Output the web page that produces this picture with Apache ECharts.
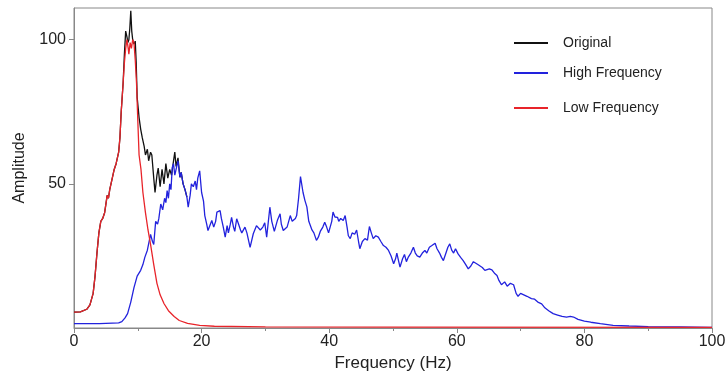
<!DOCTYPE html>
<html>
<head>
<meta charset="utf-8">
<script src="https://cdn.jsdelivr.net/npm/echarts@6/dist/echarts.min.js"></script>
<style>html,body{margin:0;padding:0;background:#fff}#c{width:728px;height:372px}</style>
</head>
<body>
<div id="c"></div>
<script>
// Frequency (Hz) vs Amplitude pairs
const lowFrequency = [[0,5.5],[1,5.6],[2,6.5],[2.5,8],[3,12],[3.3,18],[3.6,26],[3.9,33],[4.2,37],[4.5,38],[4.8,40],[5.0,43],[5.2,46],[5.4,45],[5.6,48],[6.0,52],[6.3,55],[6.6,57],[7.0,61],[7.2,66],[7.4,75],[7.7,85],[7.9,92],[8.1,97],[8.3,100],[8.5,97],[8.6,95],[8.8,99],[9.0,97],[9.2,100],[9.4,99],[9.6,93],[9.8,85],[10.0,72],[10.2,60],[10.5,55],[10.8,47],[11.2,40],[11.6,34],[12.0,29],[12.5,22],[13.0,15.5],[13.5,11.5],[14.1,8.5],[14.8,6],[15.7,4],[16.5,2.6],[17.8,1.6],[19.7,0.9],[22,0.6],[30,0.4],[50,0.3],[100,0.2]];

const original = [[0,5.5],[1,5.6],[2,6.5],[2.5,8],[3,12],[3.3,18],[3.6,26],[3.9,33],[4.2,37],[4.5,38],[4.8,40],[5.0,43],[5.2,46],[5.4,45],[5.6,48],[6.0,52],[6.3,55],[6.6,57],[7.0,61],[7.2,66],[7.4,75],[7.7,85],[7.9,95],[8.1,103],[8.3,101],[8.45,99],[8.6,100],[8.75,104],[8.9,110],[9.05,103],[9.2,100],[9.4,98.5],[9.6,99.5],[9.75,92],[9.9,80],[10.2,73],[10.45,69],[10.7,66],[11.0,63],[11.2,60],[11.5,62],[11.7,58],[12.0,61],[12.2,60],[12.5,52],[12.7,47],[13.0,53],[13.2,55.5],[13.5,49],[13.8,55],[14.1,50],[14.4,57],[14.7,52],[15.0,55],[15.3,53],[15.6,58],[15.8,61],[16.0,56],[16.3,59],[16.6,52.3],[16.8,54],[17.1,50],[17.4,48],[17.7,45.4]];

const highFrequency = [[0,1.5],[4,1.5],[7,1.8],[7.5,2.2],[8,3.5],[8.4,5],[8.9,9],[9.4,14],[9.9,18],[10.45,20],[10.8,22],[11.1,24.5],[11.5,27],[12.0,32.5],[12.3,30],[12.5,29],[12.8,37],[13.1,36],[13.3,38],[13.6,43],[13.9,41],[14.2,45],[14.4,43.5],[14.6,47.7],[14.8,45],[15.0,50],[15.2,48],[15.4,55.7],[15.6,57],[15.8,53],[16.1,53.5],[16.3,58],[16.6,52.3],[16.8,54],[17.1,50],[17.4,48],[17.7,45.4],[17.9,41.9],[18.2,46],[18.4,50],[18.7,49],[19.0,51],[19.2,48],[19.4,52],[19.7,54.5],[20.0,47],[20.3,44],[20.5,39],[20.8,36],[21.0,33.8],[21.3,34],[21.6,37.3],[21.9,35],[22.2,37],[22.4,40.2],[22.9,40.7],[23.1,38],[23.4,35],[23.7,31.5],[24.0,35.5],[24.2,33],[24.5,36],[24.7,38.4],[25.0,35],[25.2,33.5],[25.5,37.9],[25.8,36],[26.1,34],[26.3,33],[26.8,35],[27.1,33],[27.6,28],[28.1,32.7],[28.6,35.5],[28.9,36],[29.2,34],[29.6,35],[29.9,36.5],[30.2,31.5],[30.7,41.9],[31.0,37],[31.4,33.5],[31.9,37.5],[32.3,39.6],[32.5,36],[32.8,33.8],[33.1,33.2],[33.4,35],[33.9,39],[34.2,37],[34.7,38],[34.9,39],[35.2,45],[35.5,52.5],[35.7,52.9],[35.9,47],[36.2,44.2],[36.5,42],[36.8,37],[37.3,34],[37.6,33],[38.0,30.4],[38.3,31.5],[38.6,33.5],[39.0,35],[39.3,36.7],[39.6,35],[39.9,33],[40.1,33.2],[40.4,37],[40.6,40.2],[40.9,38.5],[41.3,38.4],[41.5,37],[41.8,38],[42.2,37.3],[42.5,39],[42.8,35],[43.0,32],[43.3,31],[43.6,33],[44.0,32.5],[44.3,34],[44.6,30],[44.8,27.5],[45.2,30],[45.6,31],[46.0,30.5],[46.3,35.2],[46.6,33],[46.9,31],[47.3,32],[47.7,31.5],[48.1,30],[48.5,28.6],[48.9,28],[49.3,26.9],[49.7,25],[50.1,22.3],[50.4,24],[50.6,26],[50.9,23],[51.1,21.1],[51.5,24],[51.8,25.5],[52.1,23],[52.4,24.6],[52.8,26],[53.2,28],[53.5,26],[53.8,25],[54.2,24.6],[54.6,26],[55.0,26.9],[55.3,26],[55.7,28],[56.1,28.6],[56.6,29.4],[56.9,27.5],[57.3,26],[57.6,24.5],[57.9,23.4],[58.3,26],[58.6,28],[58.9,29.2],[59.2,27],[59.5,26],[59.8,27.5],[60.2,25.7],[60.6,24.5],[61.0,23.4],[61.4,22],[61.8,20.5],[62.2,21.5],[62.6,23],[62.9,23.4],[63.3,22],[63.6,22.3],[64.0,21],[64.4,20],[64.7,19.4],[65.1,20.5],[65.5,20.2],[65.9,19],[66.3,18.2],[66.6,16.5],[67.0,15],[67.5,16],[67.9,14.5],[68.4,15.5],[68.9,15],[69.3,12],[69.6,11],[70.0,12],[70.5,11.5],[71.0,11],[71.7,10.2],[72.2,10],[72.7,9],[73.3,8.4],[73.8,7],[74.4,6],[75.1,5],[75.8,4.5],[76.5,4],[77.2,3.8],[77.8,4],[78.3,3.8],[79.0,3],[80,2.4],[81,2],[82.5,1.5],[84.5,0.9],[87,0.7],[90,0.5],[95,0.35],[100,0.2]];

const seriesNames = ['Original', 'High Frequency', 'Low Frequency'];
const xTicks = [0, 20, 40, 60, 80, 100];
const yTicks = [50, 100];

const colors = ['#111111', '#2222dd', '#e8242a'];
const font = '"Liberation Sans", Arial, sans-serif';
const chart = echarts.init(document.getElementById('c'), null, {renderer: 'canvas'});

function legendFor(i, top) {
  return {
    data: [seriesNames[i]], left: 514, top: top, padding: 0,
    icon: 'rect', itemWidth: 34, itemHeight: 2,
    textStyle: {fontFamily: font, fontSize: 14, color: '#222', padding: [0, 0, 0, 10]},
    selectedMode: false
  };
}

chart.setOption({
  animation: false,
  backgroundColor: '#fff',
  color: colors,
  legend: [legendFor(0, 36), legendFor(1, 66), legendFor(2, 101)],
  grid: {left: 74, right: 16, top: 8, bottom: 44, show: true, borderColor: '#888', borderWidth: 1,
    containLabel: false, outerBoundsMode: 'none'},
  xAxis: {
    type: 'value', min: 0, max: 100, interval: 20,
    name: 'Frequency (Hz)', nameLocation: 'middle', nameGap: 25,
    nameTextStyle: {fontFamily: font, fontSize: 17, color: '#222'},
    axisLine: {show: true, lineStyle: {color: '#888', width: 1}},
    axisTick: {show: true, length: 5, lineStyle: {color: '#888'}},
    minorTick: {show: true, splitNumber: 2, length: 3, lineStyle: {color: '#888'}},
    axisLabel: {fontFamily: font, fontSize: 16, color: '#222', margin: 6,
      formatter: v => xTicks.includes(v) ? String(v) : ''},
    splitLine: {show: false}
  },
  yAxis: {
    type: 'value', min: 0, max: 111, interval: 50,
    name: 'Amplitude', nameLocation: 'middle', nameGap: 46,
    nameTextStyle: {fontFamily: font, fontSize: 16, color: '#222'},
    axisLine: {show: true, lineStyle: {color: '#888', width: 1}},
    axisTick: {show: true, length: 5, lineStyle: {color: '#888'},
      customValues: yTicks},
    axisLabel: {fontFamily: font, fontSize: 16, color: '#222', margin: 8,
      customValues: yTicks},
    splitLine: {show: false}
  },
  series: [
    {name: seriesNames[0], type: 'line', data: original, showSymbol: false, symbol: 'none', lineStyle: {width: 1.3, color: colors[0]}, z: 2},
    {name: seriesNames[1], type: 'line', data: highFrequency, showSymbol: false, symbol: 'none', lineStyle: {width: 1.3, color: colors[1]}, z: 3},
    {name: seriesNames[2], type: 'line', data: lowFrequency, showSymbol: false, symbol: 'none', lineStyle: {width: 1.3, color: colors[2]}, z: 4}
  ]
});
</script>
</body>
</html>
